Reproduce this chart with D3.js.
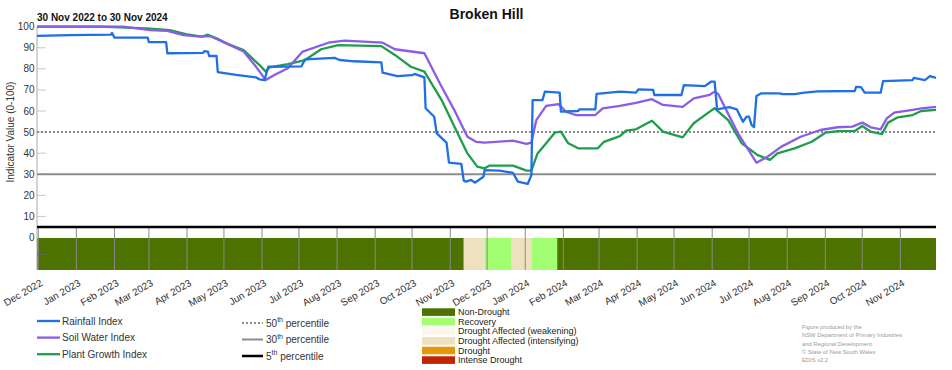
<!DOCTYPE html>
<html>
<head>
<meta charset="utf-8">
<script src="https://cdn.jsdelivr.net/npm/d3@7"></script>
<style>
  body { margin: 0; background: #fff; }
  svg { display: block; font-family: "Liberation Sans", Arial, sans-serif; }
</style>
</head>
<body>
<svg id="chart" width="952" height="370"></svg>
<script>
// ---- data ----
const rainfallPts = [
  ["2022-11-30", 95.6], ["2022-12-27", 96], ["2023-01-29", 96.2], ["2023-01-30", 97], ["2023-02-01", 94.8],
  ["2023-02-28", 94.8], ["2023-03-01", 92.7], ["2023-03-15", 92.7], ["2023-03-16", 87.4], ["2023-04-14", 87.6],
  ["2023-04-15", 88.4], ["2023-04-18", 88.2], ["2023-04-19", 86.1], ["2023-04-25", 86.1], ["2023-04-26", 78.5],
  ["2023-05-11", 77.1], ["2023-05-27", 76], ["2023-05-30", 75], ["2023-06-03", 74.7], ["2023-06-06", 81],
  ["2023-07-03", 81.2], ["2023-07-06", 84.5], ["2023-07-30", 85.2], ["2023-08-03", 84.2], ["2023-08-15", 83.6],
  ["2023-09-06", 83.1], ["2023-09-07", 78.2], ["2023-09-19", 76.6], ["2023-10-01", 77], ["2023-10-03", 77.6],
  ["2023-10-11", 76], ["2023-10-12", 61.3], ["2023-10-19", 57.3], ["2023-10-21", 49.4], ["2023-10-29", 45],
  ["2023-10-31", 35.5], ["2023-11-10", 34.9], ["2023-11-12", 27], ["2023-11-14", 26.5], ["2023-11-18", 27.3],
  ["2023-11-21", 26], ["2023-11-28", 28.8], ["2023-11-29", 32], ["2023-12-11", 31.7], ["2023-12-22", 30.7],
  ["2023-12-26", 26.5], ["2024-01-03", 25.4], ["2024-01-06", 29.6], ["2024-01-07", 65.2], ["2024-01-15", 65.2],
  ["2024-01-17", 69.2], ["2024-01-29", 68.7], ["2024-01-30", 59.7], ["2024-02-13", 60], ["2024-02-14", 60.8],
  ["2024-02-27", 60.8], ["2024-02-28", 68.1], ["2024-03-18", 69.2], ["2024-03-31", 68.7], ["2024-04-02", 70.3],
  ["2024-04-14", 70], ["2024-04-15", 67.6], ["2024-05-07", 67.6], ["2024-05-09", 72.3], ["2024-05-26", 71.8],
  ["2024-05-31", 73.9], ["2024-06-03", 73.9], ["2024-06-05", 60.8], ["2024-06-15", 61.8], ["2024-06-21", 60.8],
  ["2024-06-26", 54.9], ["2024-06-29", 57.3], ["2024-07-01", 57.3], ["2024-07-03", 53.4], ["2024-07-05", 52.3],
  ["2024-07-07", 67.1], ["2024-07-11", 68.4], ["2024-07-26", 68.4], ["2024-07-28", 68], ["2024-08-07", 68],
  ["2024-08-15", 68.7], ["2024-08-26", 69.3], ["2024-09-25", 69.5], ["2024-09-26", 71.5], ["2024-09-30", 71.3],
  ["2024-10-03", 68.7], ["2024-10-16", 68.7], ["2024-10-18", 74.2], ["2024-11-11", 74.7], ["2024-11-12", 75.7],
  ["2024-11-21", 74.7], ["2024-11-25", 76.6], ["2024-11-30", 75.7]
];

const soilWaterPts = [
  ["2022-11-30", 100], ["2023-02-08", 100], ["2023-03-02", 98.4], ["2023-03-16", 98], ["2023-03-29", 96],
  ["2023-04-12", 95.3], ["2023-04-20", 95.5], ["2023-05-03", 92.1], ["2023-05-17", 88.2], ["2023-05-26", 81.8],
  ["2023-05-30", 78.7], ["2023-06-04", 74.7], ["2023-06-11", 77.1], ["2023-06-22", 80.3], ["2023-07-04", 88.2],
  ["2023-07-25", 92.4], ["2023-08-07", 93.4], ["2023-09-07", 92.4], ["2023-09-17", 89.3], ["2023-10-11", 87.4],
  ["2023-10-25", 71.5], ["2023-11-05", 59.7], ["2023-11-15", 47.8], ["2023-11-22", 45.4], ["2023-11-29", 45],
  ["2023-12-22", 45.9], ["2024-01-02", 44.4], ["2024-01-06", 45], ["2024-01-10", 55.7], ["2024-01-18", 62.4],
  ["2024-01-28", 63.3], ["2024-02-03", 59.7], ["2024-02-11", 58.1], ["2024-02-27", 58.1], ["2024-03-04", 61.3],
  ["2024-03-18", 62.4], ["2024-03-31", 63.9], ["2024-04-13", 65.6], ["2024-04-22", 62.9], ["2024-05-08", 62],
  ["2024-05-17", 66], ["2024-05-30", 67.7], ["2024-06-03", 69.2], ["2024-06-06", 68], ["2024-06-22", 49.4],
  ["2024-07-07", 35.5], ["2024-07-16", 38.3], ["2024-07-27", 43], ["2024-08-12", 47.8], ["2024-08-28", 51],
  ["2024-09-11", 52.3], ["2024-09-23", 52.6], ["2024-10-01", 54.5], ["2024-10-08", 52.3], ["2024-10-16", 51.3],
  ["2024-10-21", 56.5], ["2024-10-27", 59.2], ["2024-11-11", 60.5], ["2024-11-18", 61.3], ["2024-11-30", 62]
];

const plantGrowthPts = [
  ["2022-11-30", 100], ["2023-01-20", 100], ["2023-02-27", 99.2], ["2023-03-18", 98.4], ["2023-03-31", 96.5],
  ["2023-04-13", 95.3], ["2023-04-18", 96.2], ["2023-04-25", 94.5], ["2023-05-03", 92.1], ["2023-05-17", 88.9],
  ["2023-05-26", 83.9], ["2023-05-30", 81.8], ["2023-06-04", 78.7], ["2023-06-07", 80.7], ["2023-06-22", 82.3],
  ["2023-07-06", 84.2], ["2023-07-19", 89.3], ["2023-08-02", 91.3], ["2023-09-06", 90.8], ["2023-09-17", 86.6],
  ["2023-09-30", 81], ["2023-10-11", 78.7], ["2023-10-25", 65.2], ["2023-11-07", 49.4], ["2023-11-15", 39.9],
  ["2023-11-23", 33.6], ["2023-11-29", 32.8], ["2023-12-03", 34.1], ["2023-12-22", 34.1], ["2024-01-02", 31.7],
  ["2024-01-06", 31.7], ["2024-01-11", 39.9], ["2024-01-18", 44.7], ["2024-01-25", 49.7], ["2024-01-30", 50.2],
  ["2024-02-05", 44.7], ["2024-02-13", 42.3], ["2024-02-29", 42.3], ["2024-03-05", 45.4], ["2024-03-18", 48.1],
  ["2024-03-23", 50.7], ["2024-03-31", 51.3], ["2024-04-13", 55.4], ["2024-04-22", 50.2], ["2024-05-08", 47.5],
  ["2024-05-17", 54.2], ["2024-05-30", 59.7], ["2024-06-03", 61.3], ["2024-06-14", 55.7], ["2024-06-25", 44.7],
  ["2024-07-08", 39.1], ["2024-07-18", 36.8], ["2024-07-24", 39.9], ["2024-08-07", 42.3], ["2024-08-21", 45.4],
  ["2024-09-01", 49.7], ["2024-09-11", 50.5], ["2024-09-25", 50.5], ["2024-10-01", 52.9], ["2024-10-08", 50.2],
  ["2024-10-17", 49], ["2024-10-22", 54.5], ["2024-10-30", 57], ["2024-11-11", 58.1], ["2024-11-18", 60],
  ["2024-11-30", 60.5]
];

const seriesNames = ["Rainfall Index", "Soil Water Index", "Plant Growth Index"];
const seriesColors = ["#1f6fe6", "#8a5ce8", "#1e9e4c"];

const percentileVals = [50, 30, 5];
const percentileNames = ["50", "30", "5"];

const categoryNames = ["Non-Drought", "Recovery", "Drought Affected (weakening)",
  "Drought Affected (intensifying)", "Drought", "Intense Drought"];
const categoryColors = ["#4e7200", "#a2ff72", "#fdf6ec", "#ede1be", "#e5980b", "#c02400"];

// drought category periods (start dates, end = next start)
const bandDates = ["2022-11-30", "2023-11-12", "2023-11-29", "2023-12-21", "2024-01-06", "2024-01-27", "2024-11-30"];
const bandCats = ["Non-Drought", "Drought Affected (intensifying)", "Recovery",
  "Drought Affected (intensifying)", "Recovery", "Non-Drought"];

const yTicks = [0, 10, 20, 30, 40, 50, 60, 70, 80, 90, 100];

const footerLines = ["Figure produced by the", "NSW Department of Primary Industries",
  "and Regional Development", "\u00a9 State of New South Wales", "EDIS v2.2"];

// ---- drawing ----
const parse = d3.timeParse("%Y-%m-%d");
const svg = d3.select("#chart");

const left = 37, right = 936;
const x = d3.scaleTime()
  .domain([parse("2022-11-30"), parse("2024-11-30")])
  .range([left, right]);
const y = d3.scaleLinear().domain([0, 100]).range([237.5, 26.7]);
const bandTop = 238, bandBottom = 270;

const catColor = d3.scaleOrdinal().domain(categoryNames).range(categoryColors);

// title
svg.append("text")
  .attr("x", (left + right) / 2).attr("y", 19)
  .attr("text-anchor", "middle")
  .attr("font-size", 14).attr("font-weight", "bold").attr("fill", "#111")
  .text("Broken Hill");

svg.append("text")
  .attr("x", left).attr("y", 21)
  .attr("font-size", 10).attr("font-weight", "bold").attr("fill", "#111")
  .text("30 Nov 2022 to 30 Nov 2024");

// drought band
const bands = bandCats.map((c, i) => ({cat: c, from: parse(bandDates[i]), to: parse(bandDates[i + 1])}));
svg.append("g").selectAll("rect")
  .data(bands)
  .enter().append("rect")
  .attr("x", d => x(d.from))
  .attr("width", d => x(d.to) - x(d.from))
  .attr("y", bandTop)
  .attr("height", bandBottom - bandTop)
  .attr("fill", d => catColor(d.cat));

// monthly grid lines in the lower section
const months = d3.timeMonth.range(parse("2022-12-01"), parse("2024-11-30"));
svg.append("g").selectAll("line")
  .data(months)
  .enter().append("line")
  .attr("x1", d => x(d)).attr("x2", d => x(d))
  .attr("y1", y(5)).attr("y2", bandBottom)
  .attr("stroke", "#8a8a8a").attr("stroke-width", 1);

// y axis
const yAxis = svg.append("g");
yAxis.append("line")
  .attr("x1", left).attr("x2", left)
  .attr("y1", y(100)).attr("y2", bandBottom)
  .attr("stroke", "#aaa").attr("stroke-width", 1);
yAxis.selectAll("line.tick")
  .data(yTicks.filter(v => v > 0))
  .enter().append("line")
  .attr("class", "tick")
  .attr("x1", left).attr("x2", left + 9)
  .attr("y1", d => y(d)).attr("y2", d => y(d))
  .attr("stroke", "#c8c8c8").attr("stroke-width", 1);
yAxis.append("line")
  .attr("x1", left).attr("x2", left + 9)
  .attr("y1", (bandTop + bandBottom) / 2 + 0.5).attr("y2", (bandTop + bandBottom) / 2 + 0.5)
  .attr("stroke", "#666").attr("stroke-width", 1);
yAxis.selectAll("text")
  .data(yTicks)
  .enter().append("text")
  .attr("x", 34.5).attr("y", d => y(d))
  .attr("dy", "0.35em")
  .attr("text-anchor", "end")
  .attr("font-size", 10).attr("fill", "#333")
  .text(d => d);

svg.append("text")
  .attr("transform", "translate(14," + ((y(100) + y(0)) / 2) + ") rotate(-90)")
  .attr("text-anchor", "middle")
  .attr("font-size", 10).attr("fill", "#333")
  .text("Indicator Value (0-100)");

// percentile reference lines
const pStyles = [
  {stroke: "#8c8c8c", width: 2, dash: "2,2"},
  {stroke: "#8c8c8c", width: 2, dash: null},
  {stroke: "#000", width: 2.5, dash: null}
];
svg.append("g").selectAll("line")
  .data(percentileVals)
  .enter().append("line")
  .attr("x1", left).attr("x2", right)
  .attr("y1", d => y(d)).attr("y2", d => y(d))
  .attr("stroke", (d, i) => pStyles[i].stroke)
  .attr("stroke-width", (d, i) => pStyles[i].width)
  .attr("stroke-dasharray", (d, i) => pStyles[i].dash);

// index lines
const line = d3.line()
  .x(d => x(parse(d[0])))
  .y(d => y(d[1]));
const allSeries = [rainfallPts, soilWaterPts, plantGrowthPts];
// draw green and purple under blue like the reference
[2, 1, 0].forEach(i => {
  svg.append("path")
    .datum(allSeries[i])
    .attr("d", line)
    .attr("fill", "none")
    .attr("stroke", seriesColors[i])
    .attr("stroke-width", 2.3)
    .attr("stroke-linejoin", "round");
});

// x tick labels
svg.append("g").selectAll("text")
  .data(months)
  .enter().append("text")
  .attr("transform", d => "translate(" + (x(d) + 5) + ",285) rotate(-30)")
  .attr("text-anchor", "end")
  .attr("font-size", 10).attr("fill", "#333")
  .text(d3.timeFormat("%b %Y"));

// legend: index lines
const lg = svg.append("g");
seriesNames.forEach((name, i) => {
  const ly = 321 + i * 16.6;
  lg.append("line")
    .attr("x1", 37).attr("x2", 60)
    .attr("y1", ly).attr("y2", ly)
    .attr("stroke", seriesColors[i]).attr("stroke-width", 2.3);
  lg.append("text")
    .attr("x", 62).attr("y", ly).attr("dy", "0.35em")
    .attr("font-size", 10).attr("fill", "#333")
    .text(name);
});

// legend: percentiles
percentileNames.forEach((p, i) => {
  const ly = 323 + i * 16.5;
  lg.append("line")
    .attr("x1", 242).attr("x2", 263)
    .attr("y1", ly).attr("y2", ly)
    .attr("stroke", pStyles[i].stroke)
    .attr("stroke-width", pStyles[i].width)
    .attr("stroke-dasharray", pStyles[i].dash);
  const t = lg.append("text")
    .attr("x", 266).attr("y", ly).attr("dy", "0.35em")
    .attr("font-size", 10).attr("fill", "#333");
  t.append("tspan").text(p);
  t.append("tspan").attr("font-size", 7).attr("dy", "-0.6em").text("th");
  t.append("tspan").attr("dy", "0.42em").text(" percentile");
});

// legend: drought categories
categoryNames.forEach((c, i) => {
  const by = 308.3 + i * 9.6;
  lg.append("rect")
    .attr("x", 422).attr("y", by)
    .attr("width", 33).attr("height", 7.6)
    .attr("fill", catColor(c));
  lg.append("text")
    .attr("x", 458).attr("y", by + 3.8).attr("dy", "0.35em")
    .attr("font-size", 9).attr("fill", "#222")
    .text(c);
});

// footer
svg.append("g").selectAll("text")
  .data(footerLines)
  .enter().append("text")
  .attr("x", 802).attr("y", (d, i) => 326.7 + i * 8.4)
  .attr("dy", "0.35em")
  .attr("font-size", 5.8).attr("fill", "#999")
  .text(d => d);
</script>
</body>
</html>
